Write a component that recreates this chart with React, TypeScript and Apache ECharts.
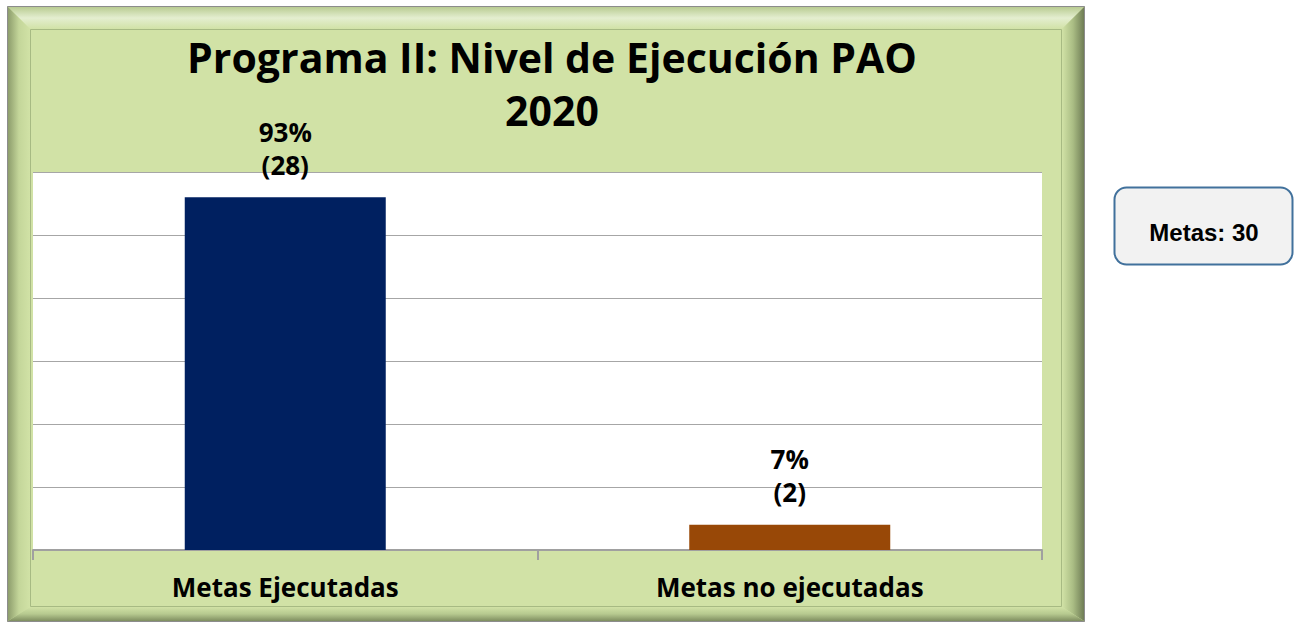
import React, { useEffect, useRef } from "react";
import * as echarts from "echarts";

const categories = ["Metas Ejecutadas", "Metas no ejecutadas"];
const values = [28, 2];
const percents = ["93%", "7%"];
const barColors = ["#002060", "#984807"];
const titleText = "Programa II: Nivel de Ejecución PAO\n2020";
const totalText = "Metas: 30";

export default function App() {
  const ref = useRef<HTMLDivElement>(null);
  useEffect(() => {
    const chart = echarts.init(ref.current!, null, { renderer: "svg" });
    const font = "'Open Sans', Lato, sans-serif";
    const lin = (x1: number, y1: number, x2: number, y2: number, stops: [number, string][]) =>
      new echarts.graphic.LinearGradient(x1, y1, x2, y2, stops.map(([offset, color]) => ({ offset, color })));
    chart.setOption({
      animation: false,
      backgroundColor: "#ffffff",
      title: {
        text: titleText,
        left: 547,
        top: 25,
        textAlign: "center",
        textStyle: { fontFamily: font, fontWeight: "bold", fontSize: 41, lineHeight: 53, color: "#000" },
      },
      grid: {
        left: 33,
        right: 258,
        top: 172,
        bottom: 74,
      },
      xAxis: {
        type: "category",
        data: categories,
        axisLine: { lineStyle: { color: "#a0a0a0", width: 2 } },
        axisTick: { show: true, length: 10, lineStyle: { color: "#a0a0a0", width: 2 } },
        axisLabel: { fontFamily: font, fontWeight: "bold", fontSize: 26, color: "#000", margin: 24 },
      },
      yAxis: {
        type: "value",
        min: 0,
        max: 30,
        interval: 5,
        axisLabel: { show: false },
        axisLine: { show: false },
        axisTick: { show: false },
        splitLine: { lineStyle: { color: "#a6a6a6", width: 1 } },
      },
      series: [
        {
          type: "bar",
          barWidth: 201,
          data: values.map((v, i) => ({ value: v, itemStyle: { color: barColors[i] } })),
          label: {
            show: true,
            position: "top",
            distance: 16,
            fontFamily: font,
            fontWeight: "bold",
            fontSize: 26,
            lineHeight: 33,
            color: "#000",
            formatter: (p: any) => `${percents[p.dataIndex]}\n(${p.value})`,
          },
          z: 4,
        },
      ],
      graphic: [
        // green background
        { type: "rect", shape: { x: 7, y: 6, width: 1078, height: 616 }, style: { fill: "#d1e2a6" }, z: -10 },
        // bevel bands
        {
          type: "polygon",
          shape: { points: [[8, 7], [1084, 7], [1062, 29], [30, 29]] },
          style: { fill: lin(0, 0, 0, 1, [[0, "#b9cc92"], [0.5, "#e4eed0"], [1, "#d1e2a6"]]) },
          z: -9,
        },
        {
          type: "polygon",
          shape: { points: [[8, 7], [30, 29], [30, 607], [8, 621]] },
          style: { fill: lin(0, 0, 1, 0, [[0, "#8d9d6c"], [0.5, "#c4d69a"], [1, "#d1e2a6"]]) },
          z: -9,
        },
        {
          type: "polygon",
          shape: { points: [[1084, 7], [1084, 621], [1062, 607], [1062, 29]] },
          style: { fill: lin(1, 0, 0, 0, [[0, "#6f7d55"], [0.5, "#aabd84"], [1, "#d1e2a6"]]) },
          z: -9,
        },
        {
          type: "polygon",
          shape: { points: [[8, 621], [30, 607], [1062, 607], [1084, 621]] },
          style: { fill: lin(0, 1, 0, 0, [[0, "#7f8e60"], [0.5, "#b6c98f"], [1, "#d1e2a6"]]) },
          z: -9,
        },
        { type: "rect", shape: { x: 7.5, y: 6.5, width: 1077, height: 615 }, style: { fill: "none", stroke: "#8c8c8c", lineWidth: 1 }, z: -8 },
        { type: "rect", shape: { x: 30.5, y: 29.5, width: 1031, height: 577 }, style: { fill: "none", stroke: "#a7ba83", lineWidth: 1 }, z: -8 },
        // plot area
        { type: "rect", shape: { x: 33, y: 172, width: 1009, height: 377 }, style: { fill: "#ffffff" }, z: -7 },
        // total box
        {
          type: "rect",
          shape: { x: 1114.5, y: 187.5, width: 178, height: 77, r: 12 },
          style: { fill: "#f2f2f2", stroke: "#41719c", lineWidth: 2 },
        },
        {
          type: "text",
          x: 1204,
          y: 232,
          style: {
            text: totalText,
            fontFamily: "'Liberation Sans', Arial, sans-serif",
            fontWeight: "bold",
            fontSize: 24,
            fill: "#000",
            align: "center",
            verticalAlign: "middle",
          },
        },
      ],
    });
    return () => chart.dispose();
  }, []);
  return <div ref={ref} style={{ position: "fixed", left: 0, top: 0, width: 1300, height: 624 }} />;
}
